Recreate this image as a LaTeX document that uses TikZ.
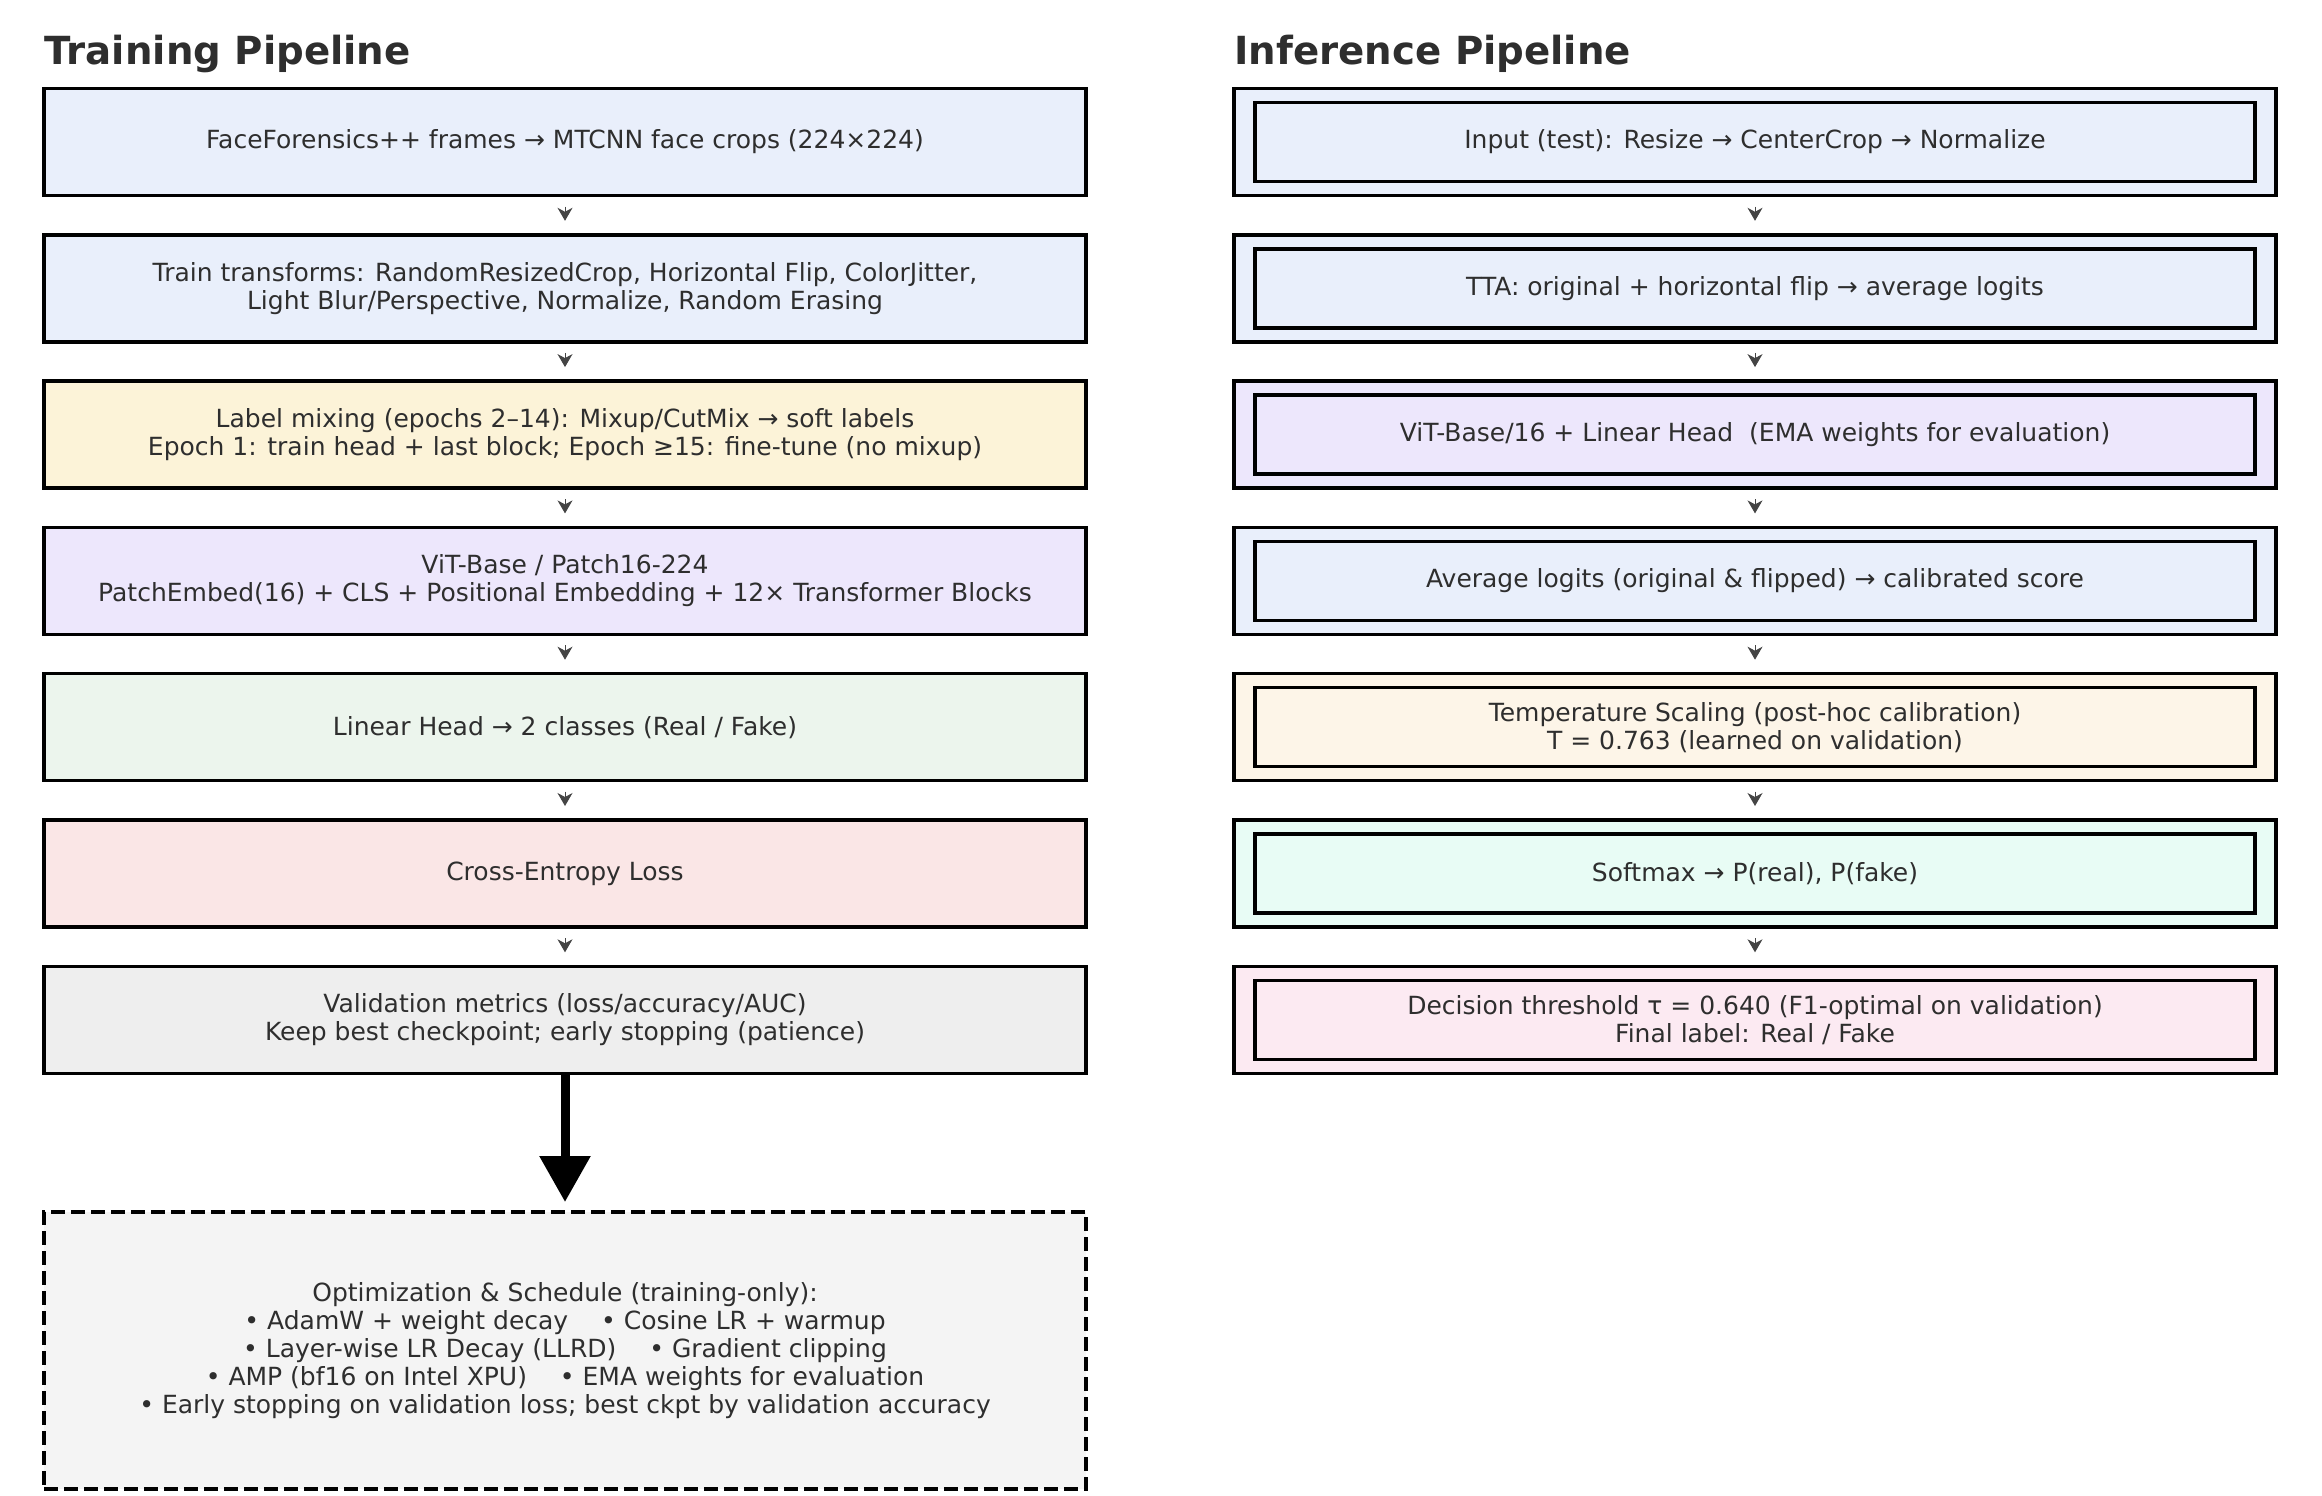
\documentclass[tikz,border=0pt]{standalone}
\usepackage{fontspec}
\setmainfont{DejaVu Sans}
\usetikzlibrary{positioning,arrows.meta}

\definecolor{txtgray}{HTML}{2E2E2E}
\definecolor{arrgray}{HTML}{444444}
\definecolor{cblue}{HTML}{E9EFFB}
\definecolor{cyellow}{HTML}{FCF3D8}
\definecolor{clav}{HTML}{EDE7FC}
\definecolor{cgreen}{HTML}{ECF5ED}
\definecolor{cpink}{HTML}{FAE6E6}
\definecolor{cgray}{HTML}{EEEEEE}
\definecolor{cdash}{HTML}{F4F4F4}
\definecolor{ccream}{HTML}{FDF5E8}
\definecolor{cmint}{HTML}{E8FCF5}
\definecolor{crose}{HTML}{FCEAF2}

\begin{document}
\begin{tikzpicture}[x=1pt,y=-1pt,
  node distance=39.3pt,
  every node/.style={text=txtgray, font=\fontsize{25}{28}\selectfont},
  trainbox/.style={draw=black, line width=3.5pt, minimum width=1042pt,
    minimum height=107pt, inner sep=0pt, outer sep=0pt, align=center},
  inferbox/.style={trainbox},
  innerbox/.style={draw=black, line width=3.5pt, minimum width=1000pt,
    minimum height=79pt, inner sep=0pt, align=center},
  optbox/.style={trainbox, dash pattern=on 14pt off 6pt, minimum height=277pt},
  title/.style={anchor=base west, text=txtgray, font=\fontsize{38.7}{44}\selectfont\bfseries},
  flowarr/.style={-{Stealth[length=13pt,width=15pt,inset=4pt]}, draw=arrgray,
    line width=1pt, shorten <=11pt, shorten >=14pt},
  bigarr/.style={-{Triangle[length=46pt,width=49pt]}, draw=black,
    line width=9pt, shorten >=10pt}]
  \useasboundingbox (0,0) rectangle (2322,1496);

  \node[title] (traintitle) at (41,65) {Training Pipeline};
  \node[title] (infertitle) at (1231,65) {Inference Pipeline};

  \node[trainbox, fill=cblue] (t1) at (565,142)
    {FaceForensics++ frames → MTCNN face crops (224×224)};
  \node[trainbox, fill=cblue, below=of t1] (t2)
    {Train transforms: RandomResizedCrop, Horizontal Flip, ColorJitter,\\Light Blur/Perspective, Normalize, Random Erasing};
  \node[trainbox, fill=cyellow, below=of t2] (t3)
    {Label mixing (epochs 2–14): Mixup/CutMix → soft labels\\Epoch 1: train head + last block; Epoch ≥15: fine-tune (no mixup)};
  \node[trainbox, fill=clav, below=of t3] (t4)
    {ViT-Base / Patch16-224\\PatchEmbed(16) + CLS + Positional Embedding + 12× Transformer Blocks};
  \node[trainbox, fill=cgreen, below=of t4] (t5)
    {Linear Head → 2 classes (Real / Fake)};
  \node[trainbox, fill=cpink, below=of t5] (t6)
    {Cross-Entropy Loss};
  \node[trainbox, fill=cgray, below=of t6] (t7)
    {Validation metrics (loss/accuracy/AUC)\\Keep best checkpoint; early stopping (patience)};
  \node[optbox, fill=cdash] (opt) at (565,1350.5)
    {Optimization \& Schedule (training-only):\\
     • AdamW + weight decay\quad\ • Cosine LR + warmup\\
     • Layer-wise LR Decay (LLRD)\quad\ • Gradient clipping\\
     • AMP (bf16 on Intel XPU)\quad\ • EMA weights for evaluation\\
     • Early stopping on validation loss; best ckpt by validation accuracy};

  \node[inferbox, fill=cblue] (i1) at (1755,142) {};
  \node[innerbox] (i1in) at (i1) {Input (test): Resize → CenterCrop → Normalize};
  \node[inferbox, fill=cblue, below=of i1] (i2) {};
  \node[innerbox] (i2in) at (i2) {TTA: original + horizontal flip → average logits};
  \node[inferbox, fill=clav, below=of i2] (i3) {};
  \node[innerbox] (i3in) at (i3) {ViT-Base/16 + Linear Head\ \ (EMA weights for evaluation)};
  \node[inferbox, fill=cblue, below=of i3] (i4) {};
  \node[innerbox] (i4in) at (i4) {Average logits (original \& flipped) → calibrated score};
  \node[inferbox, fill=ccream, below=of i4] (i5) {};
  \node[innerbox] (i5in) at (i5) {Temperature Scaling (post-hoc calibration)\\T = 0.763 (learned on validation)};
  \node[inferbox, fill=cmint, below=of i5] (i6) {};
  \node[innerbox] (i6in) at (i6) {Softmax → P(real), P(fake)};
  \node[inferbox, fill=crose, below=of i6] (i7) {};
  \node[innerbox] (i7in) at (i7) {Decision threshold τ = 0.640 (F1-optimal on validation)\\Final label: Real / Fake};

  \foreach \a/\b in {t1/t2,t2/t3,t3/t4,t4/t5,t5/t6,t6/t7,i1/i2,i2/i3,i3/i4,i4/i5,i5/i6,i6/i7}
    \draw[flowarr] (\a.south) -- (\b.north);
  \draw[bigarr] (t7.south) -- (opt.north);
\end{tikzpicture}
\end{document}
